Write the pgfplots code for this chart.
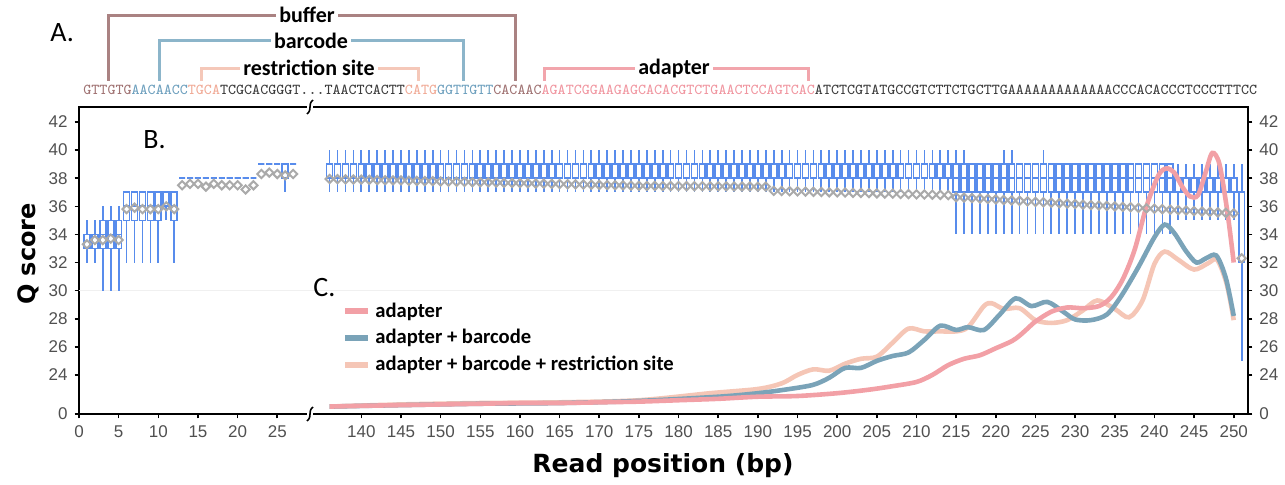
\documentclass[border=0pt]{standalone}
\usepackage{fontspec}
\setmainfont{Liberation Sans}
\newfontfamily\carlito{Carlito}
\newfontfamily\dejavu{DejaVu Sans}
\newfontfamily\lsans{Liberation Sans}
\usepackage{pgfplots}
\usepackage{pgfplotstable}
\usepgfplotslibrary{statistics}
\pgfplotsset{compat=1.18}

\definecolor{boxblue}{RGB}{88,140,236}
\definecolor{meangray}{RGB}{170,170,170}
\definecolor{cpink}{RGB}{242,160,166}
\definecolor{cblue}{RGB}{122,163,184}
\definecolor{cpeach}{RGB}{245,198,182}
\definecolor{brbuf}{RGB}{170,130,130}
\definecolor{brbar}{RGB}{140,181,202}
\definecolor{brres}{RGB}{245,200,185}
\definecolor{bradp}{RGB}{242,165,172}
\definecolor{seqbuf}{RGB}{160,115,115}
\definecolor{seqbar}{RGB}{110,160,190}
\definecolor{seqres}{RGB}{240,170,150}
\definecolor{seqadp}{RGB}{240,150,160}
\definecolor{seqblk}{RGB}{60,60,60}
\definecolor{tickgray}{RGB}{80,80,80}

% positions 1-27
\pgfplotstableread{
p lw q1 med q3 uw mean
1 32 33 34 34 35 33.3
2 32 33 34 34 35 33.6
3 30 33 34 35 36 33.6
4 30 33 34 35 36 33.7
5 30 33 34 35 36 33.6
6 32 35 36 37 37 35.8
7 32 35 36 37 37 35.9
8 32 35 36 37 37 35.8
9 32 35 36 37 37 35.8
10 32 35 36 37 37 35.8
11 35 36 37 37 37 36.0
12 32 35 36 37 37 35.8
13 38 38 38 38 38 37.5
14 38 38 38 38 38 37.6
15 38 38 38 38 38 37.6
16 38 38 38 38 38 37.4
17 38 38 38 38 38 37.6
18 38 38 38 38 38 37.5
19 38 38 38 38 38 37.5
20 38 38 38 38 38 37.5
21 38 38 38 38 38 37.2
22 38 38 38 38 38 37.5
23 39 39 39 39 39 38.3
24 39 39 39 39 39 38.4
25 39 39 39 39 39 38.3
26 37 38 39 39 39 38.2
27 39 39 39 39 39 38.3
}\boxL

% positions 136-251
\pgfplotstableread{
p lw q1 med q3 uw mean
136 37 38 39 39 40 37.95
137 37 38 39 39 40 37.94
138 37 38 39 39 40 37.92
139 37 38 39 39 40 37.91
140 37 38 39 39 40 37.90
141 37 38 39 39 40 37.89
142 37 38 39 39 40 37.87
143 37 38 39 39 40 37.86
144 37 38 39 39 40 37.85
145 37 38 39 39 40 37.84
146 37 38 39 39 40 37.82
147 37 38 39 39 40 37.81
148 37 38 39 39 40 37.80
149 37 38 39 39 40 37.79
150 37 38 39 39 40 37.77
151 37 38 39 39 40 37.76
152 37 38 39 39 40 37.75
153 37 38 39 39 40 37.74
154 37 38 39 39 40 37.72
155 37 38 39 39 40 37.71
156 37 38 39 39 40 37.70
157 37 38 39 39 40 37.69
158 37 38 39 39 40 37.67
159 37 38 39 39 40 37.66
160 37 38 39 39 40 37.65
161 37 38 39 39 40 37.64
162 37 38 39 39 40 37.62
163 37 38 39 39 40 37.61
164 37 38 39 39 40 37.60
165 37 38 39 39 40 37.59
166 37 38 39 39 40 37.57
167 37 38 39 39 40 37.56
168 37 38 39 39 40 37.55
169 37 38 39 39 40 37.54
170 37 38 39 39 40 37.52
171 37 38 39 39 40 37.51
172 37 38 39 39 40 37.50
173 37 38 39 39 40 37.49
174 37 38 39 39 40 37.47
175 37 38 39 39 40 37.46
176 37 38 39 39 40 37.45
177 37 38 39 39 40 37.45
178 37 38 39 39 40 37.44
179 37 38 39 39 40 37.44
180 37 38 39 39 40 37.44
181 37 38 39 39 40 37.43
182 37 38 39 39 40 37.43
183 37 38 39 39 40 37.43
184 37 38 39 39 40 37.42
185 37 38 39 39 40 37.42
186 37 38 39 39 40 37.42
187 37 38 39 39 40 37.41
188 37 38 39 39 40 37.41
189 37 38 39 39 40 37.41
190 37 38 39 39 40 37.40
191 37 38 39 39 40 37.40
192 37 38 39 39 40 37.10
193 37 38 39 39 40 37.09
194 37 38 39 39 40 37.07
195 37 38 39 39 40 37.06
196 37 38 39 39 40 37.05
197 37 38 39 39 40 37.03
198 37 38 39 39 40 37.02
199 37 38 39 39 40 37.00
200 37 38 39 39 40 36.99
201 37 38 39 39 40 36.98
202 37 38 39 39 40 36.96
203 37 38 39 39 40 36.95
204 37 38 39 39 40 36.94
205 37 38 39 39 40 36.92
206 37 38 39 39 40 36.91
207 37 38 39 39 40 36.90
208 37 38 39 39 40 36.88
209 37 38 39 39 40 36.87
210 37 38 39 39 40 36.85
211 37 38 39 39 40 36.84
212 37 38 39 39 40 36.83
213 37 38 39 39 40 36.81
214 37 38 39 39 40 36.80
215 34 37 38 39 40 36.65
216 34 37 38 39 40 36.62
217 34 37 38 39 39 36.58
218 34 37 38 39 39 36.55
219 34 37 38 39 39 36.52
220 34 37 38 39 39 36.49
221 34 37 38 39 40 36.45
222 34 37 38 39 40 36.42
223 34 37 38 39 39 36.39
224 34 37 38 39 39 36.35
225 34 37 38 39 39 36.32
226 34 37 38 39 40 36.29
227 34 37 38 39 39 36.26
228 34 37 38 39 39 36.22
229 34 37 38 39 39 36.19
230 34 37 38 39 39 36.16
231 34 37 38 39 39 36.12
232 34 37 38 39 39 36.09
233 34 37 38 39 39 36.06
234 34 37 38 39 39 36.03
235 34 37 38 39 39 35.99
236 34 37 38 39 39 35.96
237 34 37 38 39 39 35.93
238 34 37 38 39 39 35.89
239 34 37 38 39 39 35.86
240 34 37 38 39 39 35.83
241 34 37 38 39 39 35.80
242 34 37 38 39 39 35.76
243 35 37 38 38 39 35.73
244 35 37 38 38 39 35.70
245 35 37 38 38 39 35.66
246 35 37 38 38 39 35.63
247 35 37 38 38 39 35.60
248 35 37 38 38 39 35.57
249 35 37 38 38 39 35.53
250 35 37 38 38 39 35.50
251 25 32 32 37 39 32.30
}\boxR

\pgfplotstableread{
p q
136 21.75
140 21.8
145 21.85
150 21.9
155 21.95
160 22.0
165 22.0
170 22.05
175 22.1
180 22.2
185 22.3
190 22.45
195 22.5
200 22.7
204 22.95
207 23.2
210 23.5
212 24.0
214 24.7
216 25.15
218 25.4
220 25.9
222 26.4
223 26.8
224 27.3
225 27.8
227 28.5
229 28.8
231 28.75
233 28.9
234.5 29.5
236 30.8
237.5 32.9
239 36.0
240.5 38.2
241.5 38.7
242.5 38.4
243.5 37.4
244.5 36.7
245.5 36.8
246.5 38.5
247.3 39.8
248.2 39.0
249.2 35.6
250 32.0
}\cAdapter

\pgfplotstableread{
p q
136 21.75
145 21.85
155 21.95
165 22.0
175 22.15
185 22.45
190 22.7
194 23.0
197 23.3
199 23.8
201 24.5
203 24.5
205 25.0
207 25.35
209 25.6
211 26.5
213 27.5
215 27.2
216.5 27.4
218.5 27.2
220.5 28.3
222.5 29.45
224.5 28.9
226.5 29.2
228.5 28.5
230 27.95
232 27.9
234 28.3
235.8 29.6
238 31.7
240 33.8
241.3 34.7
242.5 34.1
244 32.8
245.3 32.0
246.5 32.3
247.8 32.5
249 30.9
250 28.2
}\cBarcode

\pgfplotstableread{
p q
136 21.75
145 21.9
155 22.0
165 22.05
175 22.2
184 22.7
190 23.0
193 23.4
195 24.0
197 24.4
199 24.3
201 24.8
203 25.15
205 25.3
207 26.3
209 27.3
211 27.1
213 27.1
215 27.1
216.5 27.4
218.5 28.9
219.5 29.1
221 28.7
223 28.75
225 27.9
227 27.7
229 27.9
231 28.6
232.8 29.3
235 28.7
236.8 28.1
238.5 29.3
240 31.9
241.3 32.78
243 32.2
245 31.5
246.8 31.96
247.9 32.2
249.1 30.5
250 27.9
}\cRestriction

\pgfplotsset{
  boxsty/.style={draw=boxblue, line width=0.85pt, solid,
    boxplot/draw direction=y, boxplot/box extend=0.75, boxplot/whisker extend=0},
}

\newcommand\drawbox[2]{%
  \pgfplotstablegetelem{#2}{p}\of#1\let\bxp\pgfplotsretval
  \pgfplotstablegetelem{#2}{lw}\of#1\let\bxlw\pgfplotsretval
  \pgfplotstablegetelem{#2}{q1}\of#1\let\bxqa\pgfplotsretval
  \pgfplotstablegetelem{#2}{med}\of#1\let\bxmd\pgfplotsretval
  \pgfplotstablegetelem{#2}{q3}\of#1\let\bxqb\pgfplotsretval
  \pgfplotstablegetelem{#2}{uw}\of#1\let\bxuw\pgfplotsretval
  \pgfmathsetmacro\bxd{\bxp>100 ? \bxp-104.4 : \bxp}%
  \edef\bxcmd{\noexpand\addplot[boxsty, forget plot, boxplot prepared={draw position=\bxd, lower whisker=\bxlw, lower quartile=\bxqa, median=\bxmd, upper quartile=\bxqb, upper whisker=\bxuw}] coordinates {};}%
  \bxcmd
}

\begin{document}
\begin{tikzpicture}[x=0.5pt, y=-0.5pt]
\path[use as bounding box] (0,0) rectangle (1285,485);

\begin{axis}[
  at={(39.5pt,-207pt)}, anchor=south west,
  scale only axis, width=584.5pt, height=153.5pt,
  xmin=0, xmax=147.4, ymin=21.22, ymax=43.07,
  boxplot/draw direction=y,
  axis line style={line width=1pt, black},
  tick align=outside, xtick pos=left, ytick pos=left,
  major tick length=2.2pt,
  tick style={black, line width=0.8pt},
  xtick={0,5,10,15,20,25,35.6,40.6,45.6,50.6,55.6,60.6,65.6,70.6,75.6,80.6,85.6,90.6,95.6,100.6,105.6,110.6,115.6,120.6,125.6,130.6,135.6,140.6,145.6},
  xticklabels={0,5,10,15,20,25,140,145,150,155,160,165,170,175,180,185,190,195,200,205,210,215,220,225,230,235,240,245,250},
  ytick={21.22,24,26,28,30,32,34,36,38,40,42},
  yticklabels={0,24,26,28,30,32,34,36,38,40,42},
  tick label style={font=\lsans\fontsize{8.5}{10}\selectfont, text=tickgray},
  /pgf/number format/assume math mode=true,
  legend cell align=left,
  legend reversed,
  legend style={at={(0.225,0.377)}, anchor=north west, draw=none, fill=none,
    font=\carlito\bfseries\fontsize{10.3}{12}\selectfont, inner sep=0pt, row sep=0.6pt},
  legend image code/.code={\draw[#1, line width=3pt] (0pt,0pt) -- (11.5pt,0pt);},
]
\draw[gray!12, line width=0.6pt] (axis cs:0,30) -- (axis cs:147.4,30);

\pgfplotsinvokeforeach{0,...,26}{\drawbox{\boxL}{#1}}
\pgfplotsinvokeforeach{0,...,115}{\drawbox{\boxR}{#1}}

\addplot[only marks, forget plot, mark=square, mark size=1.45pt,
  mark options={rotate=45, draw=meangray, line width=1pt, solid}]
  table[x=p, y=mean]{\boxL};
\addplot[only marks, forget plot, mark=square, mark size=1.45pt,
  mark options={rotate=45, draw=meangray, line width=1pt, solid}]
  table[x expr=\thisrow{p}-104.4, y=mean]{\boxR};

\addplot[cpeach, line width=2.3pt, smooth, tension=0.5]
  table[x expr=\thisrow{p}-104.4, y=q]{\cRestriction};
\addlegendentry{adapter + barcode + restriction site}
\addplot[cblue, line width=2.3pt, smooth, tension=0.5]
  table[x expr=\thisrow{p}-104.4, y=q]{\cBarcode};
\addlegendentry{adapter + barcode}
\addplot[cpink, line width=2.3pt, smooth, tension=0.5]
  table[x expr=\thisrow{p}-104.4, y=q]{\cAdapter};
\addlegendentry{adapter}
\end{axis}

\begin{axis}[
  at={(39.5pt,-207pt)}, anchor=south west,
  scale only axis, width=584.5pt, height=153.5pt,
  xmin=0, xmax=147.4, ymin=21.22, ymax=43.07,
  hide x axis, axis y line*=right,
  axis line style={line width=1pt, black},
  tick align=outside, major tick length=2.2pt,
  tick style={black, line width=0.8pt},
  ytick={21.22,24,26,28,30,32,34,36,38,40,42},
  yticklabels={0,24,26,28,30,32,34,36,38,40,42},
  tick label style={font=\lsans\fontsize{8.5}{10}\selectfont, text=tickgray},
]
\end{axis}

% axis breaks
\foreach \yy in {107,414} {
  \fill[white] (307,\yy-3) rectangle (313,\yy+3);
  \draw[black, line width=0.8pt] (307,\yy+7) .. controls (313,\yy+2) and (307,\yy-2) .. (313,\yy-7);
}

% sequence
\node[anchor=base west, inner sep=0pt, font=\ttfamily\fontsize{7.57}{9}\selectfont] at (83,95)
{{\color{seqbuf}GTTGTG}{\color{seqbar}AACAACC}{\color{seqres}TGCA}{\color{seqblk}TCGCACGGGT...TAACTCACTT}{\color{seqres}CATG}{\color{seqbar}GGTTGTT}{\color{seqbuf}CACAAC}{\color{seqadp}AGATCGGAAGAGCACACGTCTGAACTCCAGTCAC}{\color{seqblk}ATCTCGTATGCCGTCTTCTGCTTGAAAAAAAAAAAAACCCACACCCTCCCTTTCC}};

% brackets
\draw[brbuf, line width=1.5pt] (108,81) -- (108,16) -- (515,16) -- (515,81);
\draw[brbar, line width=1.5pt] (159,81) -- (159,41) -- (463,41) -- (463,81);
\draw[brres, line width=1.5pt] (201,81) -- (201,69) -- (418,69) -- (418,81);
\draw[bradp, line width=1.5pt] (544,81) -- (544,69) -- (808,69) -- (808,81);
\begin{scope}[every node/.style={fill=white, inner xsep=1.5pt, inner ysep=0pt, font=\carlito\bfseries\fontsize{11}{13}\selectfont}]
\node at (307,14.5) {buffer};
\node at (311,40.5) {barcode};
\node at (309,67.5) {restriction site};
\node at (674,68.5) {adapter};
\end{scope}

% panel letters
\node[anchor=base west, inner sep=0pt, font=\carlito\fontsize{14}{16}\selectfont] at (50,42) {A.};
\node[anchor=base west, inner sep=0pt, font=\carlito\fontsize{14}{16}\selectfont] at (143,149) {B.};
\node[anchor=base west, inner sep=0pt, font=\carlito\fontsize{14}{16}\selectfont] at (313,297) {C.};

% axis titles
\node[rotate=90, font=\dejavu\bfseries\fontsize{12}{14}\selectfont] at (28,254) {Q score};
\node[font=\dejavu\bfseries\fontsize{12.5}{14}\selectfont] at (663,466) {Read position (bp)};
\end{tikzpicture}
\end{document}
